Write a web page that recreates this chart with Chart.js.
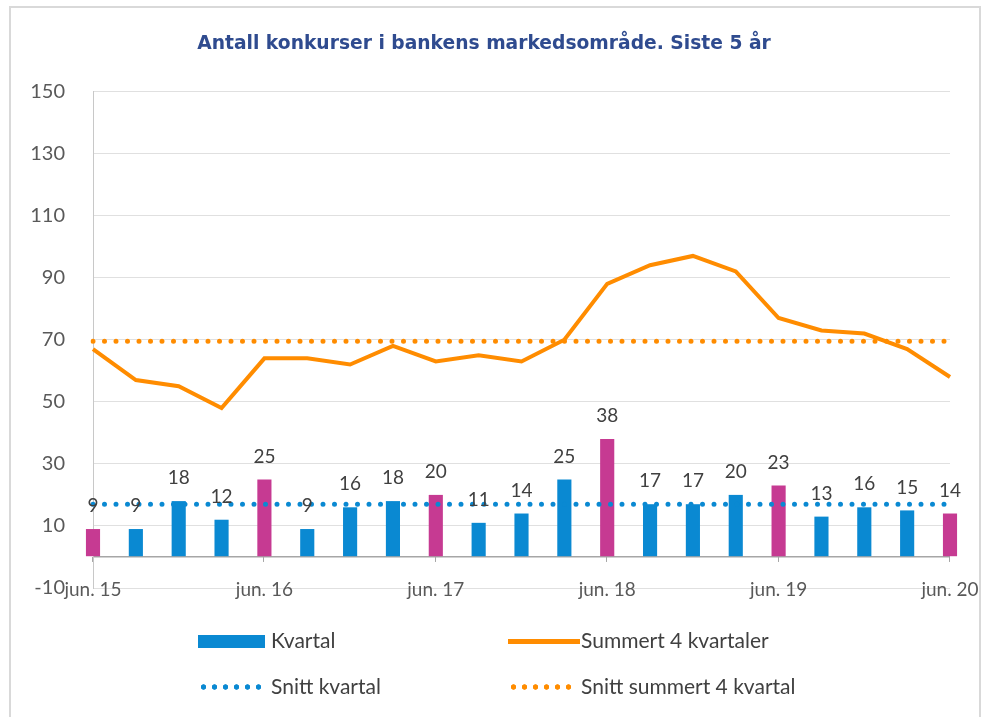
<!DOCTYPE html>
<html>
<head>
<meta charset="utf-8">
<script src="https://cdn.jsdelivr.net/npm/chart.js@4"></script>
<style>
  body { margin: 0; background: #fff; font-family: Lato, "Open Sans", sans-serif; }
  #wrap { position: relative; width: 986px; height: 717px; overflow: hidden; }
  #frame { position: absolute; left: 9px; top: 6px; width: 972px; height: 730px; border: 2px solid #d9d9d9; box-sizing: border-box; }
  canvas { position: absolute; left: 0; top: 0; }
  .item { position: absolute; font-size: 21px; color: #404040; line-height: 24px; white-space: nowrap; }
  .sw { position: absolute; }
</style>
</head>
<body>
<div id="wrap">
  <div id="frame"></div>
  <canvas id="chart" width="986" height="717"></canvas>
  <div id="legend"></div>
</div>
<script>
const kvartaler = ["jun. 15", "sep. 15", "des. 15", "mar. 16", "jun. 16", "sep. 16", "des. 16", "mar. 17",
  "jun. 17", "sep. 17", "des. 17", "mar. 18", "jun. 18", "sep. 18", "des. 18", "mar. 19",
  "jun. 19", "sep. 19", "des. 19", "mar. 20", "jun. 20"];
const kvartal = [9, 9, 18, 12, 25, 9, 16, 18, 20, 11, 14, 25, 38, 17, 17, 20, 23, 13, 16, 15, 14];
const summert = [67, 57, 55, 48, 64, 64, 62, 68, 63, 65, 63, 70, 88, 94, 97, 92, 77, 73, 72, 67, 58];
const snittKvartal = [17, 17, 17, 17, 17, 17, 17, 17, 17, 17, 17, 17, 17, 17, 17, 17, 17, 17, 17, 17, 17];
const snittSummert = [69.5, 69.5, 69.5, 69.5, 69.5, 69.5, 69.5, 69.5, 69.5, 69.5, 69.5, 69.5, 69.5, 69.5, 69.5, 69.5, 69.5, 69.5, 69.5, 69.5, 69.5];

const BLUE = "#0a89d2";
const PINK = "#c63a92";
const ORANGE = "#ff8c00";
const TEXT = "#404040";

// juni-kvartal i rosa, resten blå
const barColors = kvartaler.map(k => k.startsWith("jun") ? PINK : BLUE);

const barLabels = {
  id: "barLabels",
  afterDatasetsDraw(chart) {
    const ctx = chart.ctx;
    const meta = chart.getDatasetMeta(0);
    ctx.save();
    ctx.font = "19px Lato";
    ctx.fillStyle = TEXT;
    ctx.textAlign = "center";
    ctx.textBaseline = "middle";
    meta.data.forEach((bar, i) => ctx.fillText(kvartal[i], bar.x, bar.y - 23));
    ctx.restore();
  }
};

const zeroTicks = {
  id: "zeroTicks",
  beforeDatasetsDraw(chart) {
    const { ctx, scales: { x, y } } = chart;
    const y0 = y.getPixelForValue(0);
    ctx.save();
    ctx.strokeStyle = "#a6a6a6";
    ctx.lineWidth = 1;
    kvartaler.forEach((k, i) => {
      if (!k.startsWith("jun")) return;
      const px = Math.round(x.getPixelForValue(i)) - 0.5;
      ctx.beginPath();
      ctx.moveTo(px, y0);
      ctx.lineTo(px, y0 + 5);
      ctx.stroke();
    });
    ctx.restore();
  }
};

const chart = new Chart(document.getElementById("chart"), {
  data: {
    labels: kvartaler,
    datasets: [
      { type: "bar", label: "Kvartal", data: kvartal, backgroundColor: barColors,
        barPercentage: 0.33, categoryPercentage: 1, clip: false, order: 4 },
      { type: "line", label: "Summert 4 kvartaler", data: summert, borderColor: ORANGE,
        borderWidth: 4, pointRadius: 0, tension: 0, order: 1 },
      { type: "line", label: "Snitt kvartal", data: snittKvartal, borderColor: BLUE,
        borderWidth: 5, borderDash: [0, 11.5], borderCapStyle: "round", pointRadius: 0, order: 3 },
      { type: "line", label: "Snitt summert 4 kvartal", data: snittSummert, borderColor: ORANGE,
        borderWidth: 5, borderDash: [0, 11.5], borderCapStyle: "round", pointRadius: 0, order: 2 }
    ]
  },
  options: {
    responsive: false,
    animation: false,
    layout: { padding: { left: 18, right: 36, top: 0, bottom: 99 } },
    plugins: {
      legend: { display: false },
      tooltip: { enabled: false },
      title: {
        display: true,
        text: "Antall konkurser i bankens markedsområde. Siste 5 år",
        color: "#2f4b8f",
        font: { family: "DejaVu Sans", size: 18.7, weight: "bold" },
        padding: { top: 33, bottom: 36 }
      }
    },
    scales: {
      x: {
        offset: false,
        afterFit: s => { s.height = 30; },
        grid: { display: false, drawTicks: false },
        border: { display: false },
        ticks: {
          autoSkip: false, maxRotation: 0, mirror: true, padding: -13,
          color: "#595959", font: { family: "Lato", size: 19 },
          callback: (v, i) => kvartaler[i].startsWith("jun") ? kvartaler[i] : ""
        }
      },
      y: {
        min: -10, max: 150,
        afterFit: s => { s.width = 75; },
        border: { color: "#c8c8c8" },
        grid: {
          drawTicks: false,
          color: c => c.tick.value === 0 ? "#a6a6a6" : ((c.tick.value + 10) % 20 === 0 ? "#e0e0e0" : "rgba(0,0,0,0)"),
          lineWidth: c => c.tick.value === 0 ? 1.5 : 1
        },
        ticks: {
          stepSize: 10, autoSkip: false, padding: 28,
          color: "#595959", font: { family: "Lato", size: 20 },
          callback: v => (v + 10) % 20 === 0 ? v : ""
        }
      }
    }
  },
  plugins: [zeroTicks, barLabels]
});

// legende i to kolonner
const legend = document.getElementById("legend");
const slots = [
  { left: 198, top: 641, kind: "rect", color: BLUE },
  { left: 508, top: 641, kind: "line", color: ORANGE },
  { left: 198, top: 687, kind: "dots", color: BLUE },
  { left: 508, top: 687, kind: "dots", color: ORANGE }
];
chart.data.datasets.forEach((ds, i) => {
  const s = slots[i];
  const sw = document.createElement("div");
  sw.className = "sw";
  if (s.kind === "rect") {
    Object.assign(sw.style, { left: s.left + "px", top: (s.top - 6) + "px", width: "67px", height: "13px", background: s.color });
  } else if (s.kind === "line") {
    Object.assign(sw.style, { left: s.left + "px", top: (s.top - 2) + "px", width: "72px", height: "5px", background: s.color });
  } else {
    Object.assign(sw.style, { left: s.left + "px", top: (s.top - 3) + "px", width: "66px", height: "6px",
      background: `radial-gradient(circle, ${s.color} 2.4px, transparent 3px) 0 0 / 11px 6px repeat-x` });
  }
  legend.appendChild(sw);
  const t = document.createElement("div");
  t.className = "item";
  t.style.left = (s.left + 73) + "px";
  t.style.top = (s.top - 13) + "px";
  t.textContent = ds.label;
  legend.appendChild(t);
});
</script>
</body>
</html>
